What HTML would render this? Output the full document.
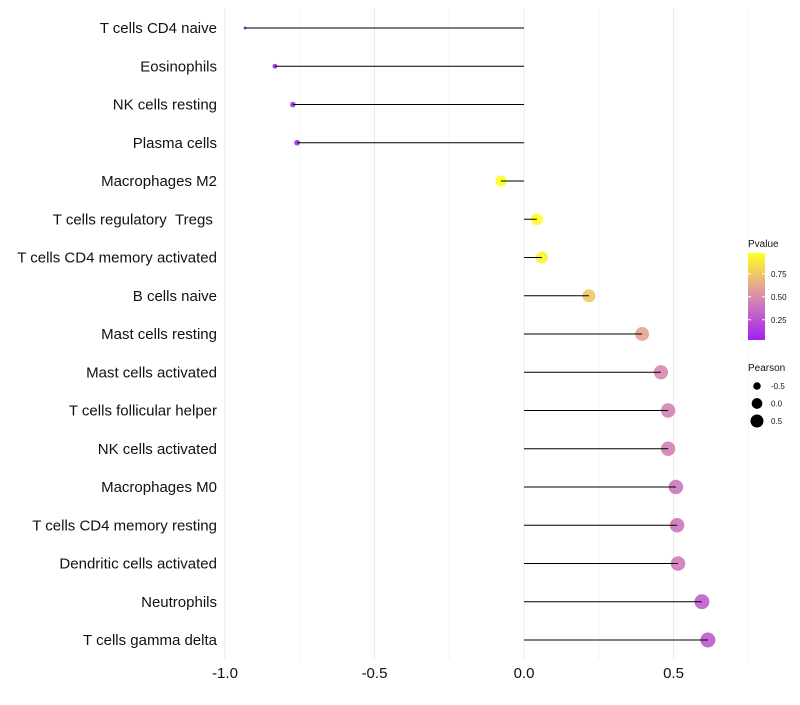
<!DOCTYPE html>
<html><head><meta charset="utf-8"><style>
body{margin:0;background:#fff;font-family:"Liberation Sans",sans-serif;}
svg text{font-family:"Liberation Sans",sans-serif;white-space:pre;}
</style></head><body>
<svg id="chart" width="800" height="700"></svg>
<script>
const categories=["T cells CD4 naive","Eosinophils","NK cells resting","Plasma cells","Macrophages M2","T cells regulatory\u00a0\u00a0Tregs\u00a0","T cells CD4 memory activated","B cells naive","Mast cells resting","Mast cells activated","T cells follicular helper","NK cells activated","Macrophages M0","T cells CD4 memory resting","Dendritic cells activated","Neutrophils","T cells gamma delta"];
const pearson=[-0.933,-0.833,-0.773,-0.759,-0.077,0.043,0.06,0.217,0.395,0.458,0.482,0.482,0.508,0.512,0.515,0.595,0.615];
const pvalue=[0.04,0.06,0.08,0.1,0.98,0.97,0.93,0.75,0.6,0.48,0.45,0.45,0.4,0.4,0.42,0.3,0.28];
const xTicks=[-1,-0.5,0,0.5];
const xTickLabels=["-1.0","-0.5","0.0","0.5"];
const pLegend=[0.25,0.5,0.75];
const sizeLegend=[-0.5,0,0.5];
const NS="http://www.w3.org/2000/svg";
const svg=document.getElementById('chart');
function mk(t,a,p){const e=document.createElementNS(NS,t);for(const k in a)e.setAttribute(k,a[k]);(p||svg).appendChild(e);return e;}
const xs=v=>524+v*299;
const ys=i=>28+i*38.25;
const pmin=Math.min(...pearson);
const rs=v=>Math.sqrt(Math.max(2.25,2.25+(v-pmin)*35));
function lerp(a,b,t){return a.map((x,i)=>Math.round(x+(b[i]-x)*t));}
function col(p){const s=[[0.03,[160,32,240]],[0.5,[217,140,176]],[0.98,[255,255,32]]];
 p=Math.max(0.03,Math.min(0.98,p));let c;
 if(p<=0.5)c=lerp(s[0][1],s[1][1],(p-0.03)/0.47);else c=lerp(s[1][1],s[2][1],(p-0.5)/0.48);
 return `rgb(${c[0]},${c[1]},${c[2]})`;}
[-1,-0.75,-0.5,-0.25,0,0.25,0.5,0.75].forEach(v=>{const g=mk('line',{x1:xs(v),x2:xs(v),y1:8,y2:660,stroke:'#ebebeb','stroke-width':Number.isInteger(v*2)?1:0.6});

});
xTicks.forEach((v,i)=>{const t=mk('text',{x:xs(v),y:678,'text-anchor':'middle','font-size':15,fill:'#111'});t.textContent=xTickLabels[i];

});
categories.forEach((c,i)=>{
 const t=mk('text',{x:217,y:ys(i)+5,'text-anchor':'end','font-size':15,fill:'#111'});t.textContent=c;
 
 
 const p=mk('circle',{cx:xs(pearson[i]),cy:ys(i),r:rs(pearson[i]),fill:col(pvalue[i]),'fill-opacity':0.9});
 
 
 const l=mk('line',{x1:xs(0),x2:xs(pearson[i]),y1:ys(i),y2:ys(i),stroke:'#000','stroke-width':1});
 
 
});
let t=mk('text',{x:748,y:247,'font-size':10,fill:'#111'});t.textContent='Pvalue';


const defs=mk('defs',{});const gr=mk('linearGradient',{id:'pg',x1:0,y1:1,x2:0,y2:0},defs);
[0,0.25,0.5,0.75,1].forEach(f=>mk('stop',{offset:f,'stop-color':col(0.03+f*0.95)},gr));
const bar=mk('rect',{x:748,y:253,width:17,height:87,fill:'url(#pg)'});


pLegend.forEach(v=>{const y=340-(v-0.03)*92;
 mk('line',{x1:748,x2:751,y1:y,y2:y,stroke:'#fff'});mk('line',{x1:762,x2:765,y1:y,y2:y,stroke:'#fff'});
 const tt=mk('text',{x:771,y:y+3,'font-size':8,fill:'#111'});tt.textContent=v.toFixed(2);
 
 });
t=mk('text',{x:748,y:371,'font-size':10,fill:'#111'});t.textContent='Pearson';


sizeLegend.forEach((v,i)=>{const y=386+i*17.5;
 const c=mk('circle',{cx:757,cy:y,r:rs(v)*0.9,fill:'#000'});
 
 
 const tt=mk('text',{x:771,y:y+3,'font-size':8,fill:'#111'});tt.textContent=v===0?'0.0':v.toFixed(1);
 
 });
</script>
</body></html>
